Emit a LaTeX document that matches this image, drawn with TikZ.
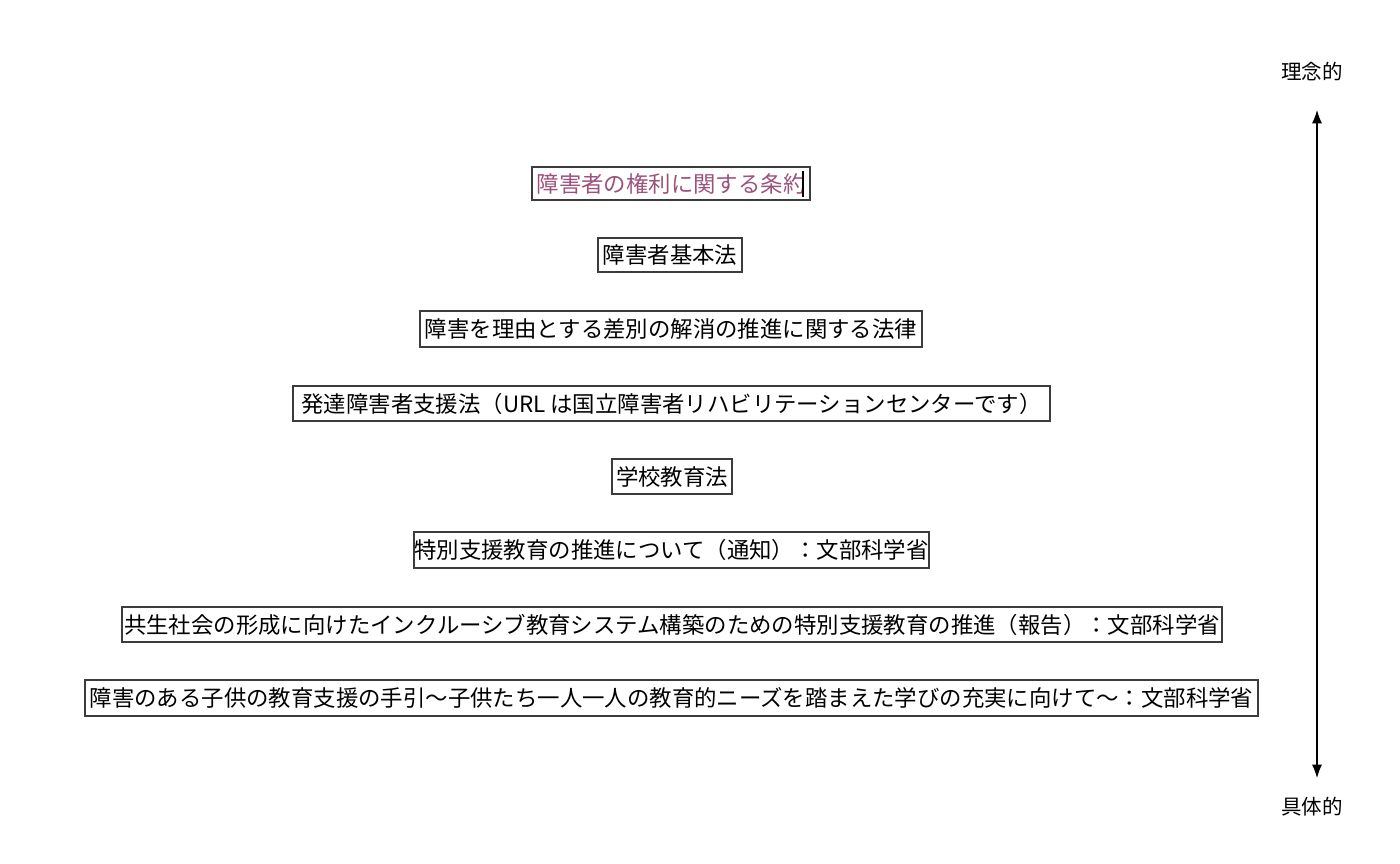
\documentclass[tikz,border=0pt]{standalone}
\usepackage{fontspec}
\newfontfamily\jp{Noto Sans CJK JP}
\usetikzlibrary{arrows.meta}
\definecolor{mauve}{RGB}{155,82,125}
\definecolor{boxline}{RGB}{60,60,60}
\tikzset{
  lawbox/.style={draw=boxline, line width=0.8pt, inner sep=0pt, fill=white,
    font=\jp\fontsize{16.8}{18}\selectfont, text=black},
  axislabel/.style={font=\jp\fontsize{15.4}{17}\selectfont, text=black, inner sep=0pt},
  axisarrow/.style={line width=0.8pt, {Latex[length=10pt,width=7.5pt]}-{Latex[length=10pt,width=7.5pt]}}
}
\begin{document}
\begin{tikzpicture}[x=0.75pt,y=-0.75pt]
\useasboundingbox (0,0) rectangle (1400,864);
\node[lawbox, minimum width=208.5pt, minimum height=24.75pt, text=mauve] (b1) at (671,183.5) {障害者の権利に関する条約\hspace{6pt}};
\draw[line width=1.6pt] (803,171) -- (803,197);
\node[lawbox, minimum width=108pt, minimum height=25.5pt] (b2) at (670,255) {障害者基本法};
\node[lawbox, minimum width=376.5pt, minimum height=27pt] (b3) at (671,329) {障害を理由とする差別の解消の推進に関する法律};
\node[lawbox, minimum width=567.75pt, minimum height=26.25pt] (b4) at (671.5,403.5) {発達障害者支援法（URL は国立障害者リハビリテーションセンターです）};
\node[lawbox, minimum width=90pt, minimum height=26.25pt] (b5) at (672,476.5) {学校教育法};
\node[lawbox, minimum width=386.25pt, minimum height=27pt] (b6) at (671.5,550) {特別支援教育の推進について（通知）：文部科学省};
\node[lawbox, minimum width=825pt, minimum height=26.25pt] (b7) at (672,624.5) {共生社会の形成に向けたインクルーシブ教育システム構築のための特別支援教育の推進（報告）：文部科学省};
\node[lawbox, minimum width=879.75pt, minimum height=27pt] (b8) at (671.5,698) {障害のある子供の教育支援の手引～子供たち一人一人の教育的ニーズを踏まえた学びの充実に向けて～：文部科学省};
\node[axislabel] (top) at (1312,72) {理念的};
\node[axislabel] (bot) at (1312,807) {具体的};
\coordinate (atop) at (1317,110);
\coordinate (abot) at (1317,778);
\draw[axisarrow] (atop) -- (abot);
\end{tikzpicture}
\end{document}
